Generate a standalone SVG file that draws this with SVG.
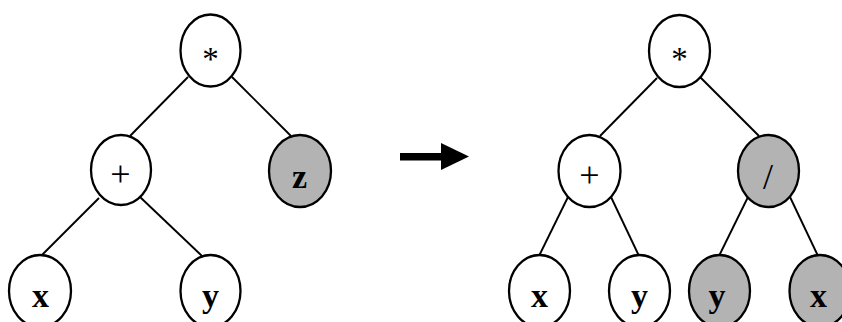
<svg xmlns="http://www.w3.org/2000/svg" width="842" height="322" viewBox="0 0 842 322">
<style>
.n{fill:#fff;stroke:#000;stroke-width:2.3}
.g{fill:#b3b3b3;stroke:#000;stroke-width:2.3}
.e line{stroke:#000;stroke-width:1.9}
.op{font-family:"Liberation Serif",serif;font-size:36px;text-anchor:middle}
.st{font-family:"Liberation Serif",serif;font-size:33px;text-anchor:middle}
.v{font-family:"Liberation Serif",serif;font-weight:bold;font-size:34px;text-anchor:middle}
</style>
<rect width="842" height="322" fill="#fff"/>
<g class="e" id="connectors">
<line x1="188" y1="77" x2="130" y2="136"/>
<line x1="232" y1="77" x2="291" y2="136"/>
<line x1="99" y1="198" x2="41" y2="256"/>
<line x1="140" y1="197" x2="202" y2="256"/>
<line x1="657" y1="78" x2="600" y2="136"/>
<line x1="700" y1="77" x2="759" y2="136"/>
<line x1="568" y1="197" x2="539" y2="256"/>
<line x1="611" y1="197" x2="639" y2="256"/>
<line x1="748" y1="197" x2="719" y2="256"/>
<line x1="790" y1="197" x2="818" y2="256"/>
</g>
<g id="L_root"><ellipse class="n" cx="210.5" cy="50.5" rx="30" ry="36"/><text class="st" x="210.5" y="70">*</text></g>
<g id="L_plus"><ellipse class="n" cx="121" cy="170" rx="30" ry="35"/><text class="op" x="120.5" y="186">+</text></g>
<g id="L_z"><ellipse class="g" cx="300" cy="171" rx="31" ry="36"/><text class="v" x="299.5" y="188">z</text></g>
<g id="L_x"><ellipse class="n" cx="40" cy="291" rx="31" ry="36"/><text class="v" x="40.5" y="307">x</text></g>
<g id="L_y"><ellipse class="n" cx="210.5" cy="291" rx="30" ry="36"/><text class="v" x="210.5" y="307">y</text></g>
<g id="arrow"><rect x="400" y="153" width="42" height="7.5"/><polygon points="441,143 469,156.5 441,170"/></g>
<g id="R_root"><ellipse class="n" cx="679.5" cy="51" rx="30.5" ry="36"/><text class="st" x="679.5" y="70">*</text></g>
<g id="R_plus"><ellipse class="n" cx="589.5" cy="171" rx="31" ry="36"/><text class="op" x="589.5" y="187">+</text></g>
<g id="R_div"><ellipse class="g" cx="768.5" cy="171" rx="30.5" ry="36"/><text class="op" x="768" y="189">/</text></g>
<g id="R_x"><ellipse class="n" cx="539.5" cy="291" rx="30.5" ry="36"/><text class="v" x="539.5" y="307">x</text></g>
<g id="R_y"><ellipse class="n" cx="639.5" cy="291" rx="30.5" ry="36"/><text class="v" x="639.5" y="307">y</text></g>
<g id="R_y2"><ellipse class="g" cx="719.5" cy="291" rx="30.5" ry="36"/><text class="v" x="717" y="307">y</text></g>
<g id="R_x2"><ellipse class="g" cx="820" cy="291" rx="30.5" ry="36"/><text class="v" x="818.5" y="307">x</text></g>
</svg>
